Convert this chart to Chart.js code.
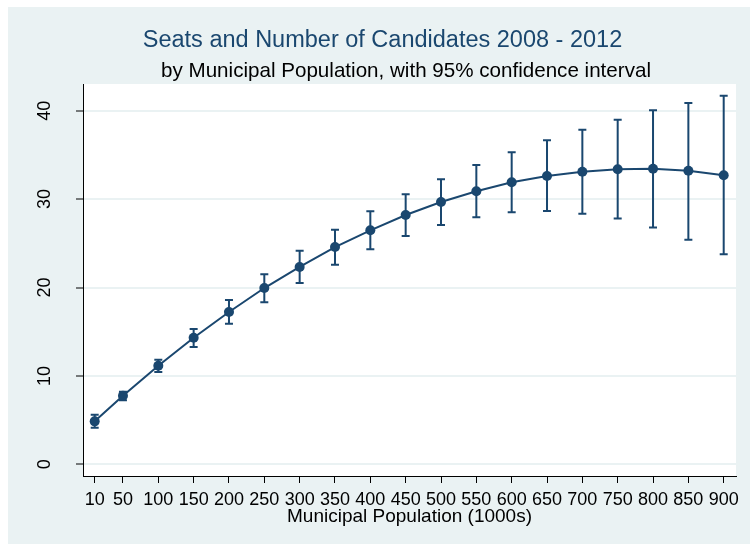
<!DOCTYPE html>
<html>
<head>
<meta charset="utf-8">
<script src="https://cdn.jsdelivr.net/npm/chart.js@4.4.1/dist/chart.umd.min.js"></script>
<style>
  html, body { margin: 0; padding: 0; background: #ffffff; }
  #wrap { position: absolute; left: 8px; top: 7px; width: 742px; height: 537px; }
  canvas { display: block; }
</style>
</head>
<body>
<div id="wrap"><canvas id="chart" width="742" height="537"></canvas></div>
<script>
// Municipal population (1000s)
const population = [10, 50, 100, 150, 200, 250, 300, 350, 400, 450, 500, 550, 600, 650, 700, 750, 800, 850, 900];
// Predicted number of seats and candidates
const predicted = [4.86, 7.76, 11.15, 14.32, 17.23, 19.94, 22.33, 24.58, 26.47, 28.20, 29.67, 30.88, 31.90, 32.61, 33.10, 33.37, 33.44, 33.20, 32.70];
// 95% confidence interval bounds
const ciLower = [4.14, 7.24, 10.44, 13.27, 15.90, 18.33, 20.52, 22.58, 24.32, 25.83, 27.07, 27.94, 28.50, 28.65, 28.35, 27.80, 26.80, 25.40, 23.75];
const ciUpper = [5.61, 8.21, 11.83, 15.30, 18.59, 21.49, 24.17, 26.54, 28.62, 30.54, 32.24, 33.86, 35.29, 36.65, 37.85, 38.98, 40.05, 40.87, 41.70];
// Axis tick values
const xTicks = [10, 50, 100, 150, 200, 250, 300, 350, 400, 450, 500, 550, 600, 650, 700, 750, 800, 850, 900];
const yTicks = [0, 10, 20, 30, 40];

const NAVY = '#1a476f';
const BG = '#eaf2f3';
const FONT = '"Liberation Sans", Arial, sans-serif';

const points = population.map((x, i) => ({ x: x, y: predicted[i] }));

// Background panels: outer graph region and white plot region
const panels = {
  id: 'panels',
  beforeDraw(chart) {
    const { ctx, chartArea: a, width, height } = chart;
    ctx.save();
    ctx.fillStyle = BG;
    ctx.fillRect(0, 0, width, height);
    ctx.fillStyle = '#ffffff';
    ctx.fillRect(a.left, a.top, a.right - a.left, a.bottom - a.top);
    ctx.restore();
  }
};

// Capped vertical interval bars
const errorBars = {
  id: 'errorBars',
  beforeDatasetsDraw(chart) {
    const { ctx, scales: { x, y } } = chart;
    ctx.save();
    ctx.strokeStyle = NAVY;
    ctx.lineWidth = 2;
    const cap = 4;
    population.forEach((p, i) => {
      const px = x.getPixelForValue(p);
      const lo = y.getPixelForValue(ciLower[i]);
      const hi = y.getPixelForValue(ciUpper[i]);
      ctx.beginPath();
      ctx.moveTo(px, lo); ctx.lineTo(px, hi);
      ctx.moveTo(px - cap, lo); ctx.lineTo(px + cap, lo);
      ctx.moveTo(px - cap, hi); ctx.lineTo(px + cap, hi);
      ctx.stroke();
    });
    ctx.restore();
  }
};

// Subtitle centred over the plot region
const subtitleLine = {
  id: 'subtitleLine',
  afterDraw(chart) {
    const { ctx, chartArea: a } = chart;
    ctx.save();
    ctx.font = '20.6px ' + FONT;
    ctx.fillStyle = '#000000';
    ctx.textAlign = 'center';
    ctx.textBaseline = 'alphabetic';
    ctx.fillText('by Municipal Population, with 95% confidence interval', (a.left + a.right) / 2 - 3.5, 69.7);
    ctx.restore();
  }
};

new Chart(document.getElementById('chart'), {
  type: 'line',
  data: {
    datasets: [{
      data: points,
      borderColor: NAVY,
      backgroundColor: NAVY,
      borderWidth: 2,
      tension: 0,
      pointRadius: 5,
      pointHoverRadius: 5,
      pointBackgroundColor: NAVY,
      pointBorderColor: NAVY,
      pointBorderWidth: 0
    }]
  },
  options: {
    responsive: false,
    animation: false,
    devicePixelRatio: 1,
    layout: { padding: { left: 7, right: 0, top: 0, bottom: 0 } },
    plugins: {
      legend: { display: false },
      tooltip: { enabled: false },
      title: {
        display: true,
        text: 'Seats and Number of Candidates 2008 - 2012',
        color: NAVY,
        font: { family: FONT, size: 23.5, weight: 'normal' },
        padding: { top: 19.7, bottom: 29.1 }
      }
    },
    scales: {
      x: {
        type: 'linear',
        min: -6.55,
        max: 917.4,
        afterBuildTicks(scale) { scale.ticks = xTicks.map(v => ({ value: v })); },
        afterFit(scale) { scale.height = 68; },
        grid: { drawOnChartArea: false, drawTicks: true, tickLength: 7, tickColor: '#000000', tickWidth: 1 },
        border: { display: true, color: '#000000', width: 1 },
        ticks: {
          color: '#000000',
          font: { family: FONT, size: 18 },
          padding: 6,
          maxRotation: 0,
          minRotation: 0,
          autoSkip: false
        },
        title: {
          display: true,
          text: 'Municipal Population (1000s)',
          color: '#000000',
          font: { family: FONT, size: 19 },
          padding: { top: 0, bottom: 16 }
        }
      },
      y: {
        type: 'linear',
        min: -1.32,
        max: 43.02,
        afterBuildTicks(scale) { scale.ticks = yTicks.map(v => ({ value: v })); },
        afterFit(scale) { scale.width = 68; },
        grid: { drawOnChartArea: true, color: BG, lineWidth: 2, drawTicks: true, tickLength: 7, tickColor: '#000000', tickWidth: 1 },
        border: { display: true, color: '#000000', width: 1 },
        ticks: {
          color: '#000000',
          font: { family: FONT, size: 18 },
          padding: 21,
          minRotation: 90,
          maxRotation: 90,
          crossAlign: 'center',
          autoSkip: false
        }
      },
      // empty right-hand margin of the graph region
      yMargin: {
        type: 'linear',
        position: 'right',
        display: true,
        afterFit(scale) { scale.width = 14; },
        grid: { display: false, drawTicks: false },
        border: { display: false },
        ticks: { display: false }
      }
    }
  },
  plugins: [panels, errorBars, subtitleLine]
});
</script>
</body>
</html>
